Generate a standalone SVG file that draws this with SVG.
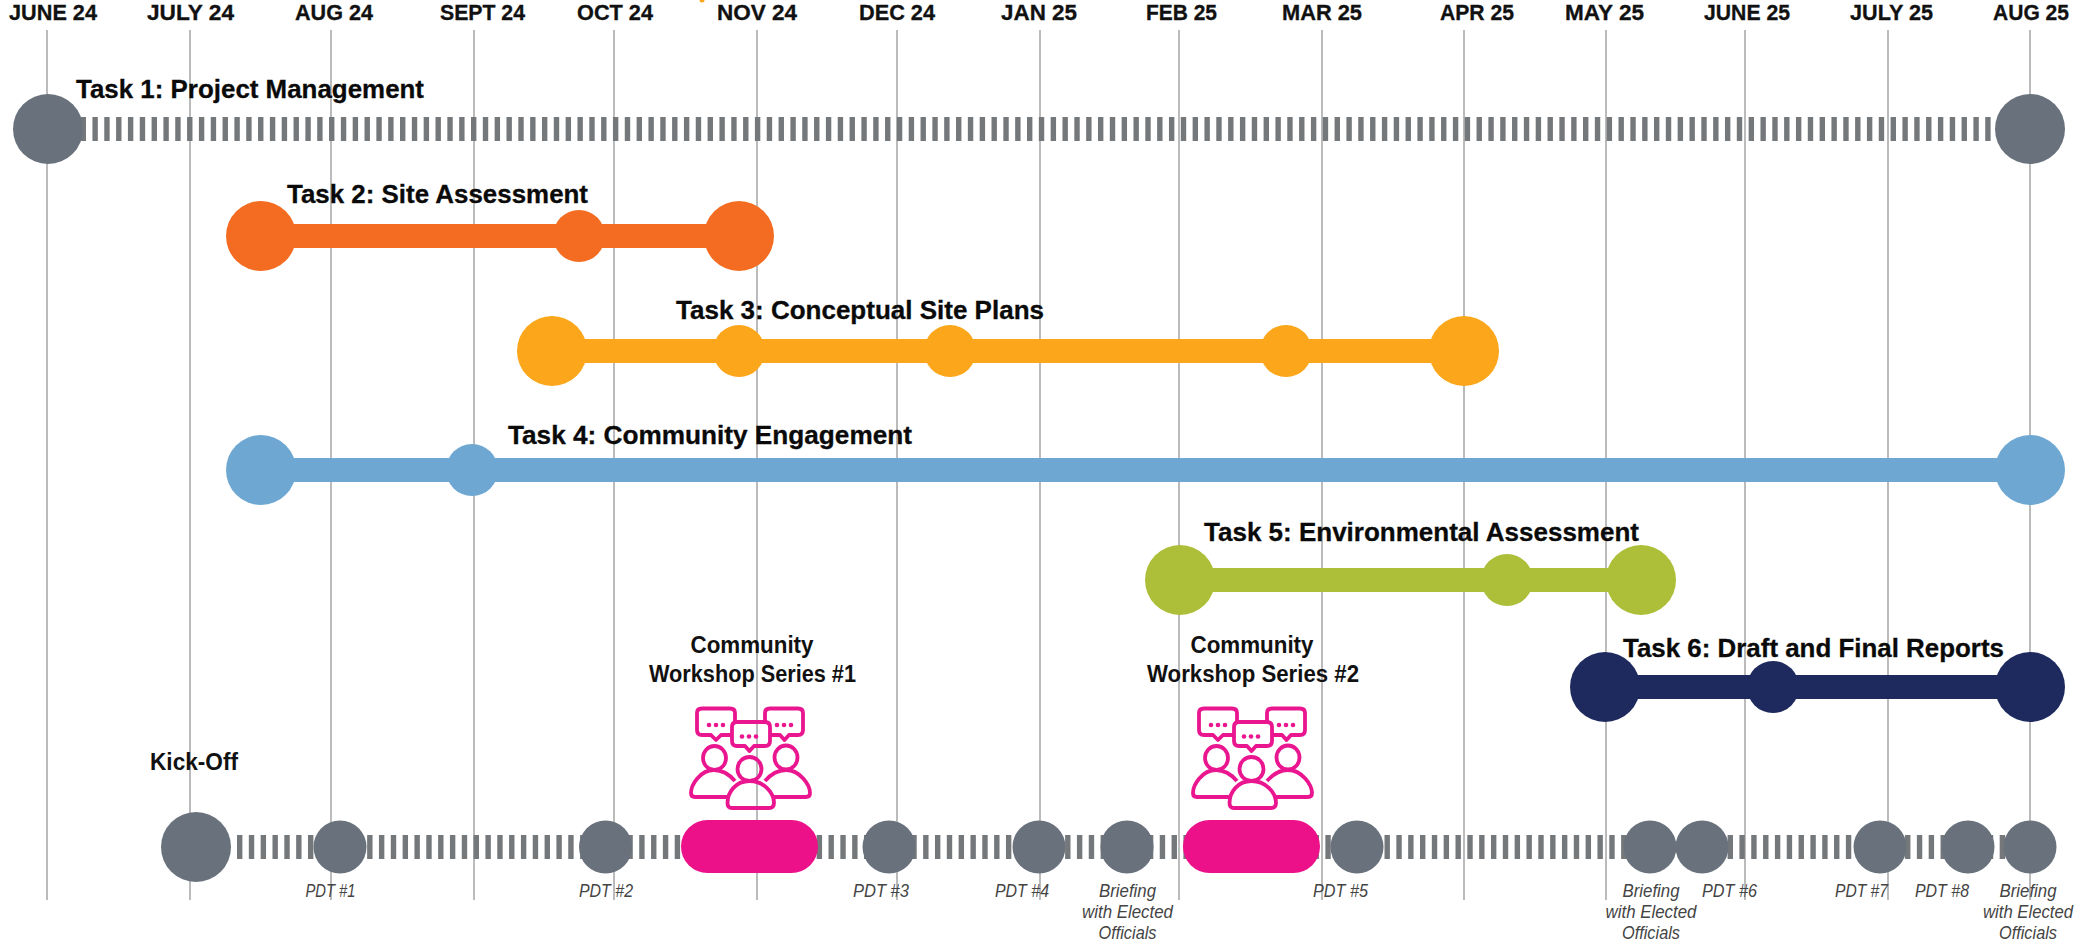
<svg xmlns="http://www.w3.org/2000/svg" width="2079" height="947" viewBox="0 0 2079 947">
<style>
text{font-family:"Liberation Sans",Arial,sans-serif;}
.m{font-size:22px;font-weight:700;fill:#111;stroke:#111;stroke-width:.3;}
.t{font-size:26.500px;font-weight:700;fill:#0a0a0a;stroke:#0a0a0a;stroke-width:.3;}
.w{font-size:23px;font-weight:700;fill:#111;text-anchor:middle;}
.p{font-size:19px;font-style:italic;fill:#444;}
.c{font-size:19px;font-style:italic;fill:#444;text-anchor:middle;}
.grid line{stroke:#bbb;stroke-width:2;}
.d{stroke:#75787b;stroke-width:24;fill:none;stroke-dasharray:5.4 6.43;}
.g{fill:#69727c;}
.ic *{fill:none;stroke:#ea1690;stroke-width:3.800;stroke-linejoin:round;}
.ic .dot{fill:#ea1690;stroke:none;}
</style>
<defs>
<g id="crowd" class="ic">
<path d="M52 35H41L36 40L31 35H22Q17 35 17 30V13Q17 8.500 22 8.500H50Q55 8.500 55 13V22"/>
<path d="M85 22V13Q85 8.500 90 8.500H118Q123 8.500 123 13V30Q123 35 118 35H109L104.500 40L100 35H90"/>
<path d="M57 22H85Q90 22 90 27V41Q90 46 85 46H74L69.500 51L65 46H57Q52 46 52 41V27Q52 22 57 22Z"/>
<circle class="dot" cx="29" cy="25" r="2.300"/><circle class="dot" cx="36" cy="25" r="2.300"/><circle class="dot" cx="43" cy="25" r="2.300"/>
<circle class="dot" cx="62" cy="36.500" r="2.300"/><circle class="dot" cx="69" cy="36.500" r="2.300"/><circle class="dot" cx="76" cy="36.500" r="2.300"/>
<circle class="dot" cx="97" cy="25" r="2.300"/><circle class="dot" cx="104" cy="25" r="2.300"/><circle class="dot" cx="111" cy="25" r="2.300"/>
<ellipse cx="34.500" cy="58" rx="11.500" ry="12"/><ellipse cx="106" cy="57.500" rx="11.500" ry="12"/><ellipse cx="69.500" cy="69" rx="12" ry="12"/>
<path d="M55 81C48 73 42 70 34 70C20 70 11 85 11 93Q11 97 15 97H47"/>
<path d="M85 81C92 73 98 70 106 70C120 70 130 85 130 93Q130 97 126 97H94"/>
<path d="M52 108Q47.500 108 47.500 103C47.500 92 56 81 69.500 81C83 81 94 92 94 103Q94 108 89 108Z"/>
</g>
</defs>
<rect width="2079" height="947" fill="#fff"/>
<ellipse id="speck" cx="702" cy="0" rx="2.500" ry="2.500" fill="#fba61b"/>
<g id="gridlines" class="grid">
<line x1="47" y1="30" x2="47" y2="900"/><line x1="190" y1="30" x2="190" y2="900"/><line x1="331" y1="30" x2="331" y2="900"/><line x1="474" y1="30" x2="474" y2="900"/><line x1="614" y1="30" x2="614" y2="900"/><line x1="757" y1="30" x2="757" y2="900"/><line x1="897" y1="30" x2="897" y2="900"/><line x1="1040" y1="30" x2="1040" y2="900"/><line x1="1179" y1="30" x2="1179" y2="900"/><line x1="1322" y1="30" x2="1322" y2="900"/><line x1="1464" y1="30" x2="1464" y2="900"/><line x1="1606" y1="30" x2="1606" y2="900"/><line x1="1745" y1="30" x2="1745" y2="900"/><line x1="1888" y1="30" x2="1888" y2="900"/><line x1="2030" y1="30" x2="2030" y2="900"/>
</g>
<g id="months">
<text class="m" x="9" y="20" textLength="88" lengthAdjust="spacingAndGlyphs">JUNE 24</text>
<text class="m" x="147" y="20" textLength="87" lengthAdjust="spacingAndGlyphs">JULY 24</text>
<text class="m" x="295" y="20" textLength="78" lengthAdjust="spacingAndGlyphs">AUG 24</text>
<text class="m" x="440" y="20" textLength="85" lengthAdjust="spacingAndGlyphs">SEPT 24</text>
<text class="m" x="577" y="20" textLength="76" lengthAdjust="spacingAndGlyphs">OCT 24</text>
<text class="m" x="717" y="20" textLength="80" lengthAdjust="spacingAndGlyphs">NOV 24</text>
<text class="m" x="859" y="20" textLength="76" lengthAdjust="spacingAndGlyphs">DEC 24</text>
<text class="m" x="1001" y="20" textLength="76" lengthAdjust="spacingAndGlyphs">JAN 25</text>
<text class="m" x="1146" y="20" textLength="71" lengthAdjust="spacingAndGlyphs">FEB 25</text>
<text class="m" x="1282" y="20" textLength="80" lengthAdjust="spacingAndGlyphs">MAR 25</text>
<text class="m" x="1440" y="20" textLength="74" lengthAdjust="spacingAndGlyphs">APR 25</text>
<text class="m" x="1565" y="20" textLength="79" lengthAdjust="spacingAndGlyphs">MAY 25</text>
<text class="m" x="1704" y="20" textLength="86" lengthAdjust="spacingAndGlyphs">JUNE 25</text>
<text class="m" x="1850" y="20" textLength="83" lengthAdjust="spacingAndGlyphs">JULY 25</text>
<text class="m" x="1993" y="20" textLength="76" lengthAdjust="spacingAndGlyphs">AUG 25</text>
</g>
<g id="connectors">
<line class="d" x1="80.600" y1="129" x2="1995" y2="129"/>
<line x1="261" y1="236" x2="739" y2="236" stroke="#f36c21" stroke-width="24"/>
<line x1="552" y1="351" x2="1464" y2="351" stroke="#fba61b" stroke-width="24"/>
<line x1="261" y1="470" x2="2030" y2="470" stroke="#6ea8d2" stroke-width="24"/>
<line x1="1180" y1="580" x2="1641" y2="580" stroke="#adbf38" stroke-width="24"/>
<line x1="1605" y1="687" x2="2030" y2="687" stroke="#1e2a5e" stroke-width="24"/>
<line class="d" x1="237" y1="847" x2="2030" y2="847"/>
</g>
<g id="task1"><circle class="g" cx="48" cy="129" r="35"/><circle class="g" cx="2030" cy="129" r="35"/><text class="t" x="76" y="98" textLength="348" lengthAdjust="spacingAndGlyphs">Task 1: Project Management</text></g>
<g id="task2" fill="#f36c21"><circle cx="261" cy="236" r="35"/><circle cx="579" cy="236" r="26"/><circle cx="739" cy="236" r="35"/><text class="t" x="287" y="203" textLength="301" lengthAdjust="spacingAndGlyphs">Task 2: Site Assessment</text></g>
<g id="task3" fill="#fba61b"><circle cx="552" cy="351" r="35"/><circle cx="739" cy="351" r="26"/><circle cx="950" cy="351" r="26"/><circle cx="1286" cy="351" r="26"/><circle cx="1464" cy="351" r="35"/><text class="t" x="676" y="319" textLength="368" lengthAdjust="spacingAndGlyphs">Task 3: Conceptual Site Plans</text></g>
<g id="task4" fill="#6ea8d2"><circle cx="261" cy="470" r="35"/><circle cx="472" cy="470" r="26"/><circle cx="2030" cy="470" r="35"/><text class="t" x="508" y="444" textLength="404" lengthAdjust="spacingAndGlyphs">Task 4: Community Engagement</text></g>
<g id="task5" fill="#adbf38"><circle cx="1180" cy="580" r="35"/><circle cx="1507" cy="580" r="26"/><circle cx="1641" cy="580" r="35"/><text class="t" x="1204" y="541" textLength="435" lengthAdjust="spacingAndGlyphs">Task 5: Environmental Assessment</text></g>
<g id="task6" fill="#1e2a5e"><circle cx="1605" cy="687" r="35"/><circle cx="1773" cy="687" r="26"/><circle cx="2030" cy="687" r="35"/><text class="t" x="1623" y="657" textLength="381" lengthAdjust="spacingAndGlyphs">Task 6: Draft and Final Reports</text></g>
<g id="kickoff"><circle class="g" cx="196" cy="847" r="35"/><text class="w" x="194" y="770" textLength="88" lengthAdjust="spacingAndGlyphs">Kick-Off</text></g>
<g id="pdt1"><circle class="g" cx="340" cy="847" r="26.500"/><text class="p" x="305.500" y="897" textLength="50" lengthAdjust="spacingAndGlyphs">PDT #1</text></g>
<g id="pdt2"><circle class="g" cx="605.500" cy="847" r="26.500"/><text class="p" x="579" y="897" textLength="54" lengthAdjust="spacingAndGlyphs">PDT #2</text></g>
<g id="workshop1"><rect x="681" y="820" width="137" height="53" rx="26.500" fill="#ec1089"/><use href="#crowd" x="680" y="700"/><text class="w" x="752" y="653" textLength="123" lengthAdjust="spacingAndGlyphs">Community</text><text class="w" x="752.500" y="682" textLength="207" lengthAdjust="spacingAndGlyphs">Workshop Series #1</text></g>
<g id="pdt3"><circle class="g" cx="889" cy="847" r="26.500"/><text class="p" x="853" y="897" textLength="56" lengthAdjust="spacingAndGlyphs">PDT #3</text></g>
<g id="pdt4"><circle class="g" cx="1039" cy="847" r="26.500"/><text class="p" x="995" y="897" textLength="54" lengthAdjust="spacingAndGlyphs">PDT #4</text></g>
<g id="briefing1"><circle class="g" cx="1127" cy="847" r="26.500"/><text class="c" x="1127.500" y="897" textLength="57" lengthAdjust="spacingAndGlyphs">Briefing</text><text class="c" x="1127.500" y="918" textLength="91" lengthAdjust="spacingAndGlyphs">with Elected</text><text class="c" x="1127.500" y="939" textLength="58" lengthAdjust="spacingAndGlyphs">Officials</text></g>
<g id="workshop2"><rect x="1183" y="820" width="137" height="53" rx="26.500" fill="#ec1089"/><use href="#crowd" x="1182" y="700"/><text class="w" x="1252" y="653" textLength="123" lengthAdjust="spacingAndGlyphs">Community</text><text class="w" x="1253" y="682" textLength="212" lengthAdjust="spacingAndGlyphs">Workshop Series #2</text></g>
<g id="pdt5"><circle class="g" cx="1357" cy="847" r="26.500"/><text class="p" x="1313" y="897" textLength="55" lengthAdjust="spacingAndGlyphs">PDT #5</text></g>
<g id="briefing2"><circle class="g" cx="1650" cy="847" r="26.500"/><text class="c" x="1651" y="897" textLength="57" lengthAdjust="spacingAndGlyphs">Briefing</text><text class="c" x="1651" y="918" textLength="91" lengthAdjust="spacingAndGlyphs">with Elected</text><text class="c" x="1651" y="939" textLength="58" lengthAdjust="spacingAndGlyphs">Officials</text></g>
<g id="pdt6"><circle class="g" cx="1702" cy="847" r="26.500"/><text class="p" x="1702" y="897" textLength="55" lengthAdjust="spacingAndGlyphs">PDT #6</text></g>
<g id="pdt7"><circle class="g" cx="1880" cy="847" r="26.500"/><text class="p" x="1835" y="897" textLength="53" lengthAdjust="spacingAndGlyphs">PDT #7</text></g>
<g id="pdt8"><circle class="g" cx="1968" cy="847" r="26.500"/><text class="p" x="1915" y="897" textLength="54" lengthAdjust="spacingAndGlyphs">PDT #8</text></g>
<g id="briefing3"><circle class="g" cx="2030" cy="847" r="26.500"/><text class="c" x="2028" y="897" textLength="57" lengthAdjust="spacingAndGlyphs">Briefing</text><text class="c" x="2028" y="918" textLength="90" lengthAdjust="spacingAndGlyphs">with Elected</text><text class="c" x="2028" y="939" textLength="58" lengthAdjust="spacingAndGlyphs">Officials</text></g>
</svg>
